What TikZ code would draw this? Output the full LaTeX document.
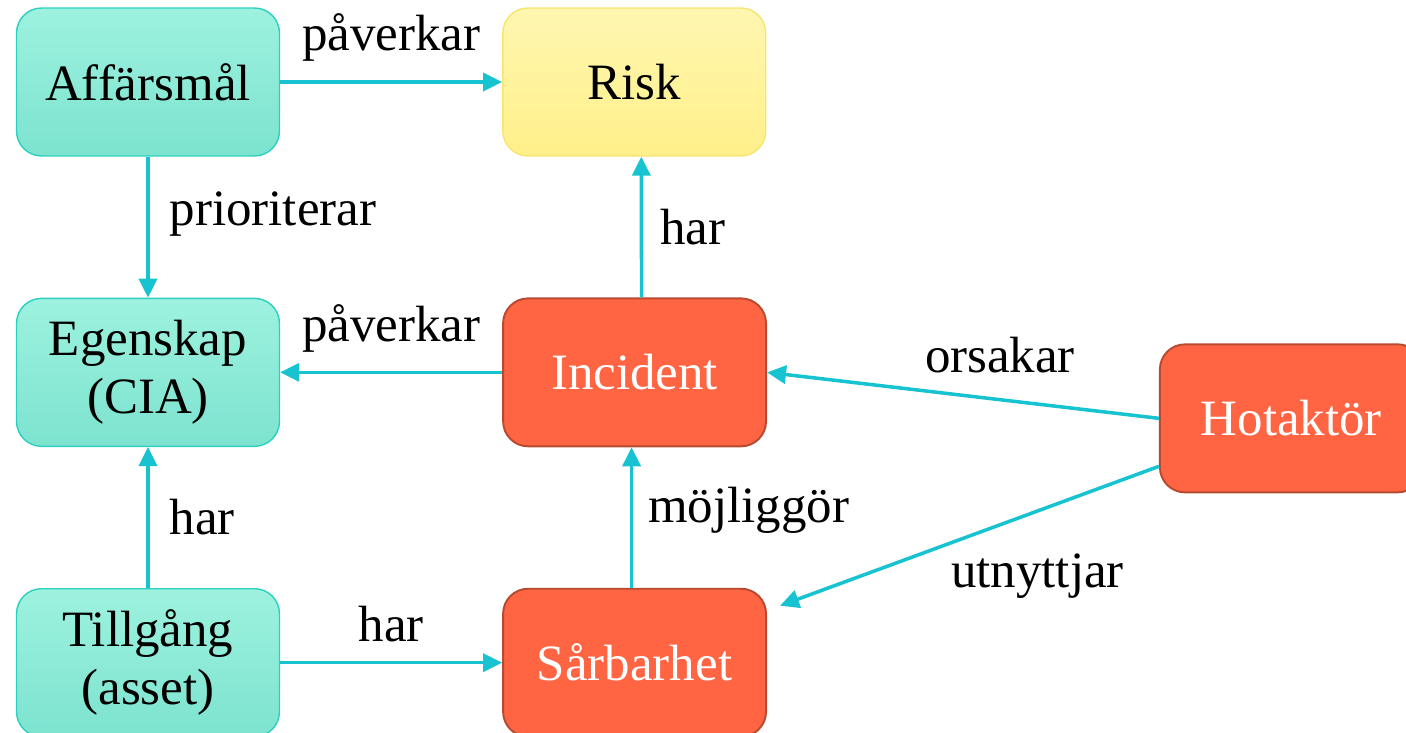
\documentclass[tikz,border=0pt]{standalone}
\usepackage{fontspec}
\setmainfont{Liberation Serif}
\usetikzlibrary{positioning,arrows.meta}

\definecolor{linkcyan}{HTML}{17C3D0}
\definecolor{tealtop}{HTML}{9DF2DE}
\definecolor{tealbot}{HTML}{7CE3CF}
\definecolor{tealborder}{HTML}{2DD0C0}
\definecolor{risktop}{HTML}{FFF6B0}
\definecolor{riskbot}{HTML}{FFF08A}
\definecolor{riskborder}{HTML}{F7E570}
\definecolor{threatfill}{HTML}{FF6443}
\definecolor{threatborder}{HTML}{B84A30}

\begin{document}
\begin{tikzpicture}[%
    x=0.02cm, y=-0.02cm,          % work in pixels of the sketch
    >={Triangle[length=3.8mm,width=3.6mm]},
    node distance=2.82cm and 4.44cm,
    every node/.style={font=\fontsize{29}{33}\selectfont},
    ]
% -------------------------------------------------
% Box styles
\tikzset{
base/.style={draw, rounded corners=5mm, align=center, line width=0.8pt,
             minimum width=5.26cm, minimum height=2.96cm},
goal/.style={base, draw=tealborder, top color=tealtop, bottom color=tealbot},
riskbox/.style={base, draw=riskborder, top color=risktop, bottom color=riskbot},
threat/.style={base, draw=threatborder, fill=threatfill, text=white, line width=1.1pt},
% -------------------------------------------------
% Connector and label styles
link/.style={->, draw=linkcyan, line width=2pt},
lbl/.style={inner sep=0pt, text=black},
}
\useasboundingbox (0,0) rectangle (1406,733);
% -------------------------------------------------
% Place the boxes
\node [goal] (affarsmal) at (148,82) {Affärsmål};
\node [riskbox, right=of affarsmal] (risk) {Risk};
\node [goal, below=of affarsmal] (egenskap) {Egenskap\\(CIA)};
\node [threat, right=of egenskap] (incident) {Incident};
\node [goal, below=of egenskap] (tillgang) {Tillgång\\(asset)};
\node [threat, right=of tillgang] (sarbarhet) {Sårbarhet};
\node [threat, right=7.84cm of incident, yshift=-0.92cm] (hotaktor) {Hotaktör};

% -------------------------------------------------
% Connectors with their labels
\draw [link] (affarsmal) -- node [lbl, yshift=0.9cm] {påverkar} (risk);
\draw [link] (affarsmal) -- node [lbl, anchor=west, xshift=0.4cm, yshift=0.26cm] {prioriterar} (egenskap);
\draw [link] ([xshift=0.14cm] incident.north) -- node [lbl, anchor=west, xshift=0.34cm] {har} ([xshift=0.14cm] risk.south);
\draw [link] (incident) -- node [lbl, yshift=0.88cm] {påverkar} (egenskap);
\draw [link] (hotaktor.west) -- node [lbl, xshift=0.74cm, yshift=0.8cm] {orsakar} (incident.east);
\draw [link] (tillgang) -- node [lbl, anchor=west, xshift=0.4cm] {har} (egenskap);
\draw [link] (tillgang) -- node [lbl, yshift=0.78cm] {har} (sarbarhet);
\draw [link] ([xshift=-0.06cm] sarbarhet.north) -- node [lbl, anchor=west, xshift=0.3cm, yshift=0.14cm] {möjliggör} ([xshift=-0.06cm] incident.south);
\draw [link] ([yshift=-0.96cm] hotaktor.west) -- node [lbl, xshift=1.36cm, yshift=-0.8cm] {utnyttjar} ([xshift=0.26cm, yshift=1.14cm] sarbarhet.east);

\end{tikzpicture}
\end{document}
